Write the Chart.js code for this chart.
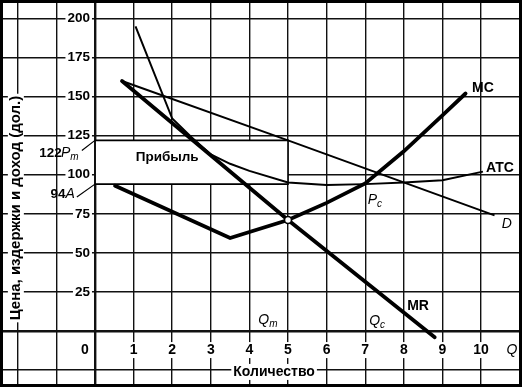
<!DOCTYPE html>
<html>
<head>
<meta charset="utf-8">
<script src="https://cdn.jsdelivr.net/npm/chart.js"></script>
<style>
  html, body { margin: 0; padding: 0; background: #fff; }
  #wrap { width: 522px; height: 387px; box-sizing: border-box; border: 3px solid #000; }
  canvas { display: block; }
</style>
</head>
<body>
<div id="wrap"><canvas id="chart" width="516" height="381"></canvas></div>
<script>
// tick labels
const xTicks = [1, 2, 3, 4, 5, 6, 7, 8, 9, 10];
const yTicks = [25, 50, 75, 100, 125, 150, 175, 200];

// curves (quantity, dollars)
const demandQ = [0.7, 5, 10.35];
const demandP = [160, 122, 74];
const mrQ = [0.7, 5, 8.8];
const mrP = [160, 71, -4];
const mcQ = [0.52, 3.5, 5, 6, 7, 8, 9, 9.6];
const mcP = [93, 59.5, 71, 82, 94.5, 115, 138, 152];
const atcQ = [1.05, 2, 2.5, 3, 3.5, 4, 5, 6, 7, 8, 9, 10.05];
const atcP = [195, 136, 124, 113, 107, 102.5, 95, 93.5, 94, 95, 96.5, 102];

// profit box: Q from 0 to Qm, price from A (94) to Pm (122)
const profitQ = [0, 5];
const profitP = [94, 122];
const optimumQ = 5;
const optimumP = 71;

const toPts = (qs, ps) => qs.map((q, i) => ({ x: q, y: ps[i] }));

const BOLD = 'bold 14px "Liberation Sans", Arial, sans-serif';
const BOLD_S = 'bold 13.5px "Liberation Sans", Arial, sans-serif';
const ITAL = 'italic 14px "Liberation Sans", Arial, sans-serif';
const SUB = 'italic 10px "Liberation Sans", Arial, sans-serif';

function text(ctx, str, px, py, font, align, backdrop) {
    ctx.save();
    ctx.font = font;
    ctx.textAlign = align || 'center';
    ctx.textBaseline = 'middle';
    if (backdrop) {
        const w = ctx.measureText(str).width;
        let left = px - w / 2;
        if (ctx.textAlign === 'right') left = px - w;
        if (ctx.textAlign === 'left') left = px;
        ctx.fillStyle = '#fff';
        ctx.fillRect(left - 2, py - 8, w + 4, 16);
    }
    ctx.fillStyle = '#000';
    ctx.fillText(str, px, py);
    ctx.restore();
}

// italic letter with a small subscript, e.g. Q_m
function subText(ctx, main, sub, px, py) {
    ctx.save();
    ctx.font = ITAL;
    const w1 = ctx.measureText(main).width;
    ctx.font = SUB;
    const w2 = ctx.measureText(sub).width;
    const left = px - (w1 + w2) / 2;
    ctx.textBaseline = 'middle';
    ctx.textAlign = 'left';
    ctx.fillStyle = '#000';
    ctx.font = ITAL;
    ctx.fillText(main, left, py);
    ctx.font = SUB;
    ctx.fillText(sub, left + w1, py + 4);
    ctx.restore();
}

const profitBox = {
    id: 'profitBox',
    beforeDatasetsDraw(chart) {
        const { ctx, scales: { x, y } } = chart;
        const l = x.getPixelForValue(profitQ[0]);
        const r = x.getPixelForValue(profitQ[1]);
        const t = y.getPixelForValue(profitP[1]);
        const b = y.getPixelForValue(profitP[0]);
        ctx.save();
        ctx.fillStyle = '#fff';
        ctx.fillRect(l + 1, t, r - l - 1, b - t);
        ctx.strokeStyle = '#000';
        ctx.lineWidth = 1.6;
        ctx.beginPath();
        ctx.moveTo(l, t); ctx.lineTo(r, t); ctx.lineTo(r, b); ctx.lineTo(l, b);
        ctx.stroke();
        ctx.restore();
        text(ctx, 'Прибыль', x.getPixelForValue(1.87), y.getPixelForValue(111.4), BOLD_S);
    }
};

const axisLabels = {
    id: 'axisLabels',
    afterDatasetsDraw(chart) {
        const { ctx, scales: { x, y } } = chart;
        const X = v => x.getPixelForValue(v);
        const Y = v => y.getPixelForValue(v);

        // y ticks
        yTicks.forEach(v => text(ctx, String(v), X(-0.13), Y(v), BOLD_S, 'right', true));
        // x ticks
        text(ctx, '0', X(-0.26), Y(-12.2), BOLD, 'center', true);
        xTicks.forEach(v => text(ctx, String(v), X(v), Y(-12.2), BOLD, 'center', true));
        text(ctx, 'Q', X(10.8), Y(-12.2), ITAL, 'center', true);

        // axis titles
        text(ctx, 'Количество', X(4.64), Y(-26.2), BOLD, 'center', true);
        ctx.save();
        ctx.translate(X(-2.05), Y(78.7));
        ctx.rotate(-Math.PI / 2);
        text(ctx, 'Цена, издержки и доход (дол.)', 0, 0,
            'bold 15px "Liberation Sans", Arial, sans-serif', 'center', true);
        ctx.restore();

        // Pm and A markers on the price axis
        ctx.save();
        ctx.font = ITAL;
        const pmW = ctx.measureText('P').width + 7;
        const aW = ctx.measureText('A').width;
        ctx.restore();
        const pmRight = X(-0.44);
        subText(ctx, 'P', 'm', pmRight - pmW / 2, Y(113.9));
        text(ctx, '122', pmRight - pmW, Y(113.9), BOLD_S, 'right');
        text(ctx, 'A', X(-0.52) - aW / 2, Y(87.7), ITAL, 'center');
        text(ctx, '94', X(-0.52) - aW, Y(87.7), BOLD_S, 'right');

        ctx.save();
        ctx.strokeStyle = '#000';
        ctx.lineWidth = 1.2;
        ctx.beginPath();
        ctx.moveTo(X(-0.34), Y(115.5)); ctx.lineTo(X(0), Y(122));
        ctx.moveTo(X(-0.47), Y(85.8)); ctx.lineTo(X(0), Y(94));
        ctx.stroke();
        ctx.restore();

        // curve names
        text(ctx, 'MC', X(10.05), Y(155.5), BOLD);
        text(ctx, 'ATC', X(10.49), Y(104.3), BOLD);
        text(ctx, 'MR', X(8.37), Y(16), BOLD);
        text(ctx, 'D', X(10.67), Y(68.5), ITAL);
        subText(ctx, 'P', 'c', X(7.25), Y(83.8));
        subText(ctx, 'Q', 'm', X(4.48), Y(7));
        subText(ctx, 'Q', 'c', X(7.31), Y(6.4));
    }
};

const gridWidth = c => (c.tick && c.tick.value === 0 ? 2.4 : 1.4);

const ctx = document.getElementById('chart').getContext('2d');
new Chart(ctx, {
    type: 'scatter',
    data: {
        datasets: [
            {
                label: 'optimum',
                data: [{ x: optimumQ, y: optimumP }],
                showLine: false,
                pointRadius: 3.5,
                pointBackgroundColor: '#fff',
                pointBorderColor: '#000',
                pointBorderWidth: 1.6
            },
            {
                label: 'MC',
                data: toPts(mcQ, mcP),
                showLine: true,
                borderColor: '#000',
                borderWidth: 3.8,
                pointRadius: 0,
                borderCapStyle: 'round'
            },
            {
                label: 'MR',
                data: toPts(mrQ, mrP),
                showLine: true,
                borderColor: '#000',
                borderWidth: 3.8,
                pointRadius: 0,
                borderCapStyle: 'round'
            },
            {
                label: 'D',
                data: toPts(demandQ, demandP),
                showLine: true,
                borderColor: '#000',
                borderWidth: 2,
                pointRadius: 0
            },
            {
                label: 'ATC',
                data: toPts(atcQ, atcP),
                showLine: true,
                borderColor: '#000',
                borderWidth: 2,
                pointRadius: 0
            }
        ]
    },
    options: {
        responsive: false,
        animation: false,
        layout: { padding: 0, autoPadding: false },
        plugins: {
            legend: { display: false },
            tooltip: { enabled: false }
        },
        scales: {
            x: {
                type: 'linear',
                min: -2.383,
                max: 10.984,
                afterBuildTicks: s => { s.ticks = [-2, -1, 0].concat(xTicks).map(v => ({ value: v })); },
                ticks: { display: false },
                border: { display: false },
                grid: { color: '#111', lineWidth: gridWidth, drawTicks: false }
            },
            y: {
                type: 'linear',
                min: -33.92,
                max: 209.92,
                afterBuildTicks: s => { s.ticks = [-25, 0].concat(yTicks).map(v => ({ value: v })); },
                ticks: { display: false },
                border: { display: false },
                grid: { color: '#111', lineWidth: gridWidth, drawTicks: false }
            }
        }
    },
    plugins: [profitBox, axisLabels]
});
</script>
</body>
</html>
